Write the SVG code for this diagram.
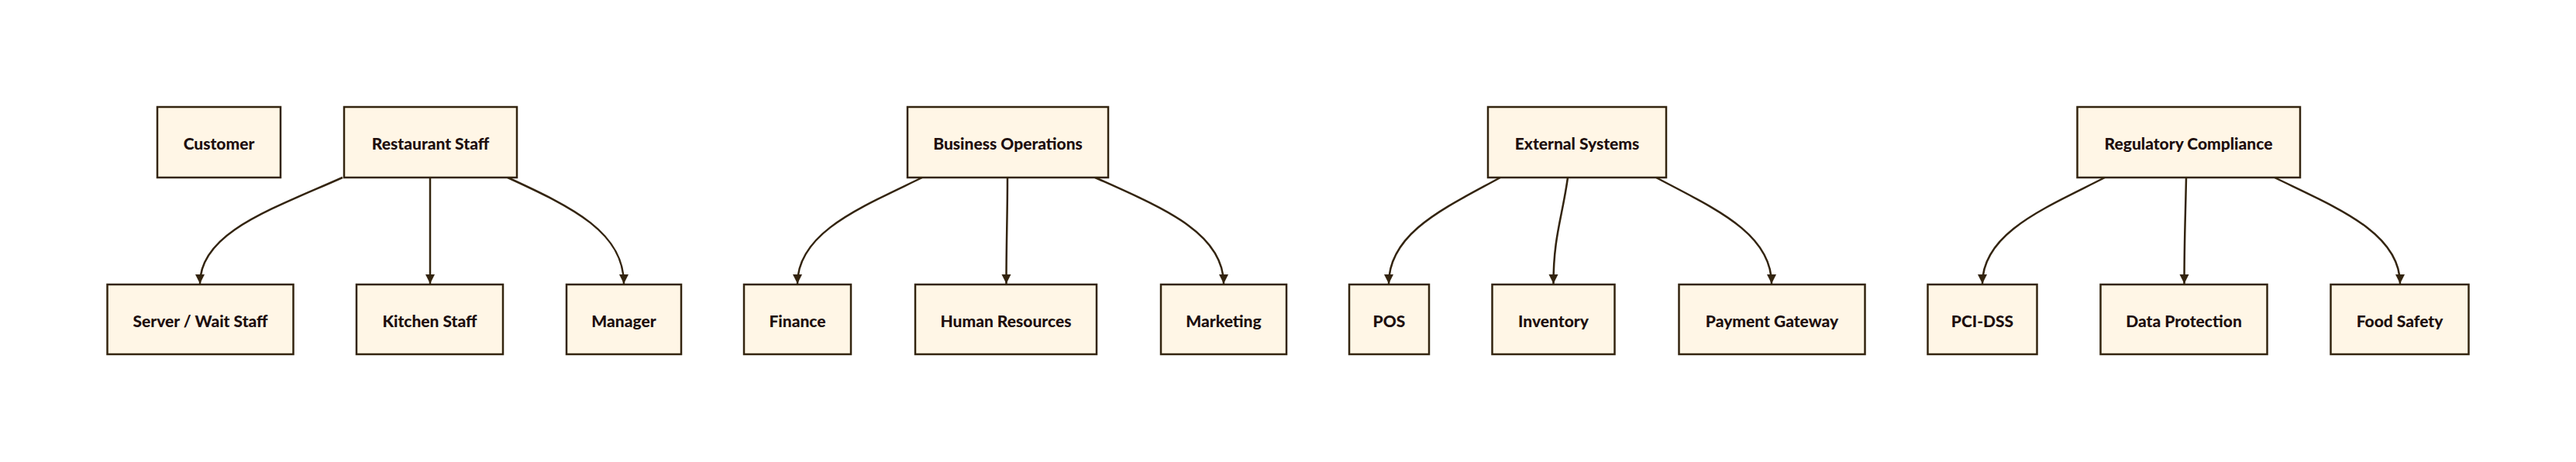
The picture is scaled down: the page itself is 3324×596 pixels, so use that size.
<svg xmlns="http://www.w3.org/2000/svg" width="3324" height="596" viewBox="0 0 3324 596">
<style>
.n rect{fill:#fff6e6;stroke:#33240f;stroke-width:2.5}
.n text{font-family:Lato,"Noto Sans",sans-serif;font-weight:900;font-size:21px;fill:#1e0f0f;text-anchor:middle;dominant-baseline:central}
.e path{fill:none;stroke:#33240f;stroke-width:2.5;marker-end:url(#ah)}
</style>
<defs>
<marker id="ah" viewBox="0 0 12 12" markerUnits="userSpaceOnUse" markerWidth="12" markerHeight="13" refX="12" refY="6" orient="auto">
<path d="M0,0 L12,6 L0,12 z" fill="#33240f"/>
</marker>
</defs>
<rect width="3324" height="596" fill="#ffffff"/>
<g id="edges" class="e">
<path d="M442,229 C350,270 258,300 258,366"/>
<path d="M555,229 L555,366"/>
<path d="M655,229 C740,268 805,300 805,366"/>
<path d="M1190,229 C1110,268 1029,300 1029,366"/>
<path d="M1300,229 C1300,280 1298.5,310 1298.5,366"/>
<path d="M1413,229 C1500,268 1579,300 1579,366"/>
<path d="M1936,229 C1865,268 1792,300 1792,366"/>
<path d="M2023,229 C2016,280 2004.5,305 2004.5,366"/>
<path d="M2137,229 C2210,268 2286,300 2286,366"/>
<path d="M2716,229 C2640,268 2558,300 2558,366"/>
<path d="M2821,229 C2820,280 2818.5,310 2818.5,366"/>
<path d="M2935,229 C3015,268 3097,300 3097,366"/>
</g>
<g id="customer" class="n"><rect x="203" y="138" width="159" height="91"/><text x="282.5" y="184.5">Customer</text></g>
<g id="restaurant-staff" class="n"><rect x="444" y="138" width="223" height="91"/><text x="555.5" y="184.5">Restaurant Staff</text></g>
<g id="server" class="n"><rect x="138.5" y="367" width="240" height="90"/><text x="258.5" y="413">Server / Wait Staff</text></g>
<g id="kitchen-staff" class="n"><rect x="460" y="367" width="189" height="90"/><text x="554.5" y="413">Kitchen Staff</text></g>
<g id="manager" class="n"><rect x="731" y="367" width="148" height="90"/><text x="805" y="413">Manager</text></g>
<g id="business-operations" class="n"><rect x="1171" y="138" width="259" height="91"/><text x="1300.5" y="184.5">Business Operations</text></g>
<g id="finance" class="n"><rect x="960" y="367" width="138" height="90"/><text x="1029" y="413">Finance</text></g>
<g id="human-resources" class="n"><rect x="1181" y="367" width="234" height="90"/><text x="1298" y="413">Human Resources</text></g>
<g id="marketing" class="n"><rect x="1498" y="367" width="162" height="90"/><text x="1579" y="413">Marketing</text></g>
<g id="external-systems" class="n"><rect x="1920" y="138" width="230" height="91"/><text x="2035" y="184.5">External Systems</text></g>
<g id="pos" class="n"><rect x="1741" y="367" width="103" height="90"/><text x="1792.5" y="413">POS</text></g>
<g id="inventory" class="n"><rect x="1925.5" y="367" width="158" height="90"/><text x="2004.5" y="413">Inventory</text></g>
<g id="payment-gateway" class="n"><rect x="2166.5" y="367" width="240" height="90"/><text x="2286.5" y="413">Payment Gateway</text></g>
<g id="regulatory-compliance" class="n"><rect x="2680.5" y="138" width="287.5" height="91"/><text x="2824" y="184.5">Regulatory Compliance</text></g>
<g id="pci-dss" class="n"><rect x="2487.5" y="367" width="141" height="90"/><text x="2558" y="413">PCI-DSS</text></g>
<g id="data-protection" class="n"><rect x="2710.5" y="367" width="215" height="90"/><text x="2818" y="413">Data Protection</text></g>
<g id="food-safety" class="n"><rect x="3007.5" y="367" width="178" height="90"/><text x="3096.5" y="413">Food Safety</text></g>
</svg>
